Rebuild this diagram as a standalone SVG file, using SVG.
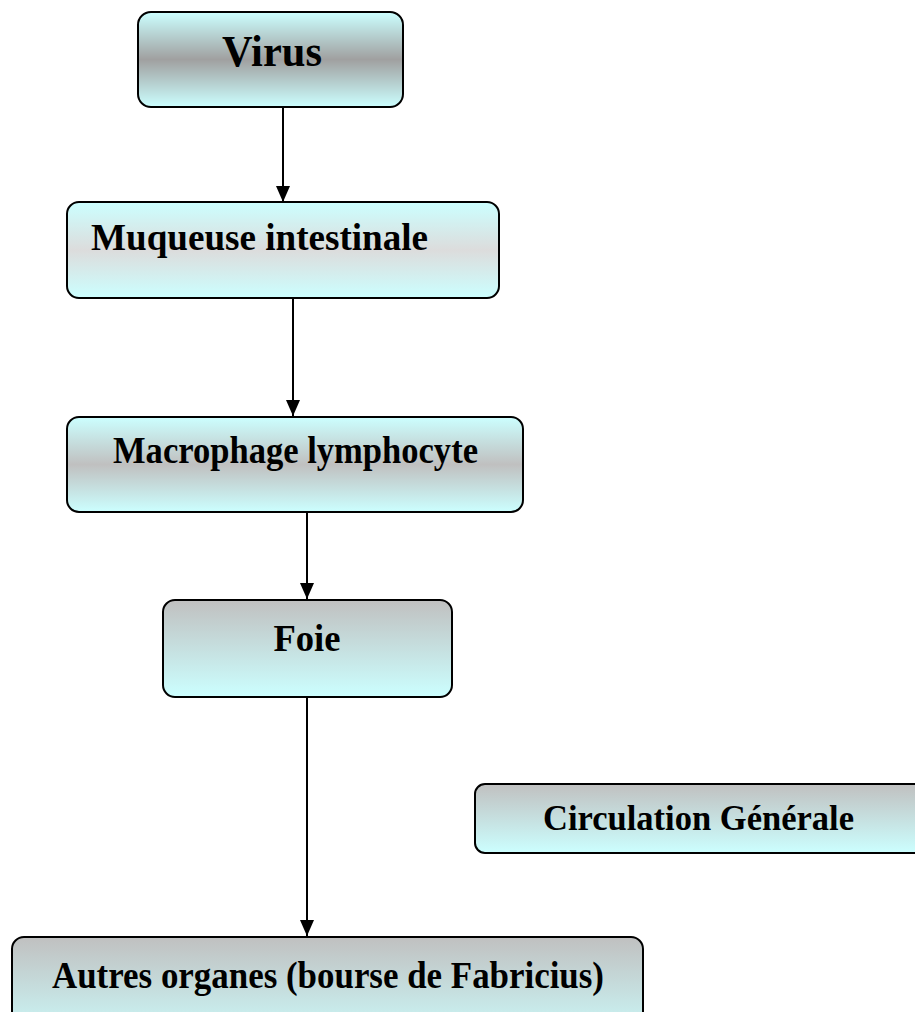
<svg xmlns="http://www.w3.org/2000/svg" width="915" height="1012" viewBox="0 0 915 1012">
<style>
.box{stroke:#000;stroke-width:2}
.lbl{font-family:"Liberation Serif","Times New Roman",serif;font-weight:bold;fill:#000;text-anchor:middle}
.conn{stroke:#000;stroke-width:2;fill:none}
</style>
<defs>
<linearGradient id="gMid" x1="0" y1="0" x2="0" y2="1">
<stop offset="0" stop-color="#ccffff"/><stop offset="0.5" stop-color="#a0a0a0"/><stop offset="1" stop-color="#ccffff"/>
</linearGradient>
<linearGradient id="gLight" x1="0" y1="0" x2="0" y2="1">
<stop offset="0" stop-color="#ccffff"/><stop offset="0.5" stop-color="#dcdcdc"/><stop offset="1" stop-color="#ccffff"/>
</linearGradient>
<linearGradient id="gMac" x1="0" y1="0" x2="0" y2="1">
<stop offset="0" stop-color="#ccffff"/><stop offset="0.5" stop-color="#c0c0c0"/><stop offset="1" stop-color="#ccffff"/>
</linearGradient>
<linearGradient id="gDown" x1="0" y1="0" x2="0" y2="1">
<stop offset="0" stop-color="#c0c0c0"/><stop offset="1" stop-color="#ccffff"/>
</linearGradient>
<marker id="arr" markerWidth="16" markerHeight="16" refX="16" refY="8" orient="auto" markerUnits="userSpaceOnUse">
<path d="M0,1 L16,8 L0,15 Z" fill="#000"/>
</marker>
</defs>
<g id="connectors">
<line class="conn" x1="283" y1="107" x2="283" y2="202" marker-end="url(#arr)"/>
<line class="conn" x1="293" y1="298" x2="293" y2="416" marker-end="url(#arr)"/>
<line class="conn" x1="307" y1="512" x2="307" y2="599" marker-end="url(#arr)"/>
<line class="conn" x1="307" y1="697" x2="307" y2="936" marker-end="url(#arr)"/>
</g>
<g id="virus">
<rect class="box" x="138" y="12" width="265" height="95" rx="13" fill="url(#gMid)"/>
<text class="lbl" x="272" y="66" font-size="44" textLength="100" lengthAdjust="spacingAndGlyphs">Virus</text>
</g>
<g id="muqueuse">
<rect class="box" x="67" y="202" width="432" height="96" rx="12" fill="url(#gLight)"/>
<text class="lbl" x="259.5" y="250" font-size="37" textLength="337" lengthAdjust="spacingAndGlyphs">Muqueuse intestinale</text>
</g>
<g id="macrophage">
<rect class="box" x="67" y="417" width="456" height="95" rx="12" fill="url(#gMac)"/>
<text class="lbl" x="295.5" y="463" font-size="37" textLength="365" lengthAdjust="spacingAndGlyphs">Macrophage lymphocyte</text>
</g>
<g id="foie">
<rect class="box" x="163" y="600" width="289" height="97" rx="12" fill="url(#gDown)"/>
<text class="lbl" x="307" y="651" font-size="37" textLength="67" lengthAdjust="spacingAndGlyphs">Foie</text>
</g>
<g id="circulation">
<rect class="box" x="475" y="784" width="460" height="69" rx="10" fill="url(#gDown)"/>
<text class="lbl" x="698.5" y="830" font-size="36" textLength="311" lengthAdjust="spacingAndGlyphs">Circulation Générale</text>
</g>
<g id="autres">
<rect class="box" x="12" y="937" width="631" height="110" rx="12" fill="url(#gDown)"/>
<text class="lbl" x="328" y="988" font-size="37" textLength="552" lengthAdjust="spacingAndGlyphs">Autres organes (bourse de Fabricius)</text>
</g>
</svg>
